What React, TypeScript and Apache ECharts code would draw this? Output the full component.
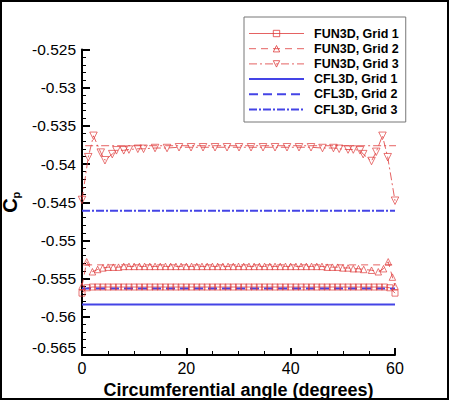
import { useEffect, useRef } from "react";
import * as echarts from "echarts";

const FONT = "Liberation Sans";
const RED = "#de3a3a";
const BLUE = "#4444e6";

// FUN3D, Grid 1 (squares, solid)
const fun3dGrid1Angle = [
  0, 1, 2, 3, 4, 5, 6, 7, 8, 9, 10, 11, 12, 13, 14, 15, 16, 17, 18, 19, 20,
  21, 22, 23, 24, 25, 26, 27, 28, 29, 30, 31, 32, 33, 34, 35, 36, 37, 38, 39,
  40, 41, 42, 43, 44, 45, 46, 47, 48, 49, 50, 51, 52, 53, 54, 55, 56, 57, 58,
  59, 60,
];
const fun3dGrid1Cp = [
  -0.5569, -0.5562, -0.5561, -0.5561, -0.5561, -0.5561, -0.5561, -0.5561,
  -0.5561, -0.5561, -0.5561, -0.5561, -0.5561, -0.5561, -0.5561, -0.5561,
  -0.5561, -0.5561, -0.5561, -0.5561, -0.5561, -0.5561, -0.5561, -0.5561,
  -0.5561, -0.5561, -0.5561, -0.5561, -0.5561, -0.5561, -0.5561, -0.5561,
  -0.5561, -0.5561, -0.5561, -0.5561, -0.5561, -0.5561, -0.5561, -0.5561,
  -0.5561, -0.5561, -0.5561, -0.5561, -0.5561, -0.5561, -0.5561, -0.5561,
  -0.5561, -0.5561, -0.5561, -0.5561, -0.5561, -0.5561, -0.5561, -0.5561,
  -0.5561, -0.5561, -0.5561, -0.5562, -0.5569,
];

// FUN3D, Grid 2 (triangles up, dashed)
const fun3dGrid2Angle = [
  0, 0.9, 2, 3, 4, 5, 6, 7, 8, 9, 10, 11, 12, 13, 14, 15, 16, 17, 18, 19, 20,
  21, 22, 23, 24, 25, 26, 27, 28, 29, 30, 31, 32, 33, 34, 35, 36, 37, 38, 39,
  40, 41, 42, 43, 44, 45, 46, 47, 48, 49, 50, 51, 52, 53, 54, 55.5, 56.8, 57.8,
  58.7, 59.5, 60,
];
const fun3dGrid2Cp = [
  -0.556, -0.5528, -0.5541, -0.5538, -0.5536, -0.5535, -0.5535, -0.5535,
  -0.5534, -0.5534, -0.5534, -0.5534, -0.5534, -0.5534, -0.5534, -0.5534,
  -0.5534, -0.5534, -0.5534, -0.5534, -0.5534, -0.5534, -0.5534, -0.5534,
  -0.5534, -0.5534, -0.5534, -0.5534, -0.5534, -0.5534, -0.5534, -0.5534,
  -0.5534, -0.5534, -0.5534, -0.5534, -0.5534, -0.5534, -0.5534, -0.5534,
  -0.5534, -0.5534, -0.5534, -0.5534, -0.5534, -0.5534, -0.5534, -0.5535,
  -0.5535, -0.5535, -0.5536, -0.5536, -0.5537, -0.5537, -0.5538, -0.5539,
  -0.5541, -0.5537, -0.5528, -0.5548, -0.556,
];
const fun3dGrid2LevelAngle = [0.6, 60.6];
const fun3dGrid2LevelCp = [-0.5532, -0.5532];

// FUN3D, Grid 3 (triangles down, dash-dot)
const fun3dGrid3Angle = [
  0, 1.2, 2.2, 3.6, 4.4, 5.8, 6.6, 8.0, 9.0, 10.7, 11.8, 14.0, 16.3, 18.6,
  20.9, 23.2, 25.5, 27.8, 30.1, 32.4, 34.7, 37.0, 39.3, 41.6, 43.9, 46.1, 48.2,
  49.3, 51.0, 52.0, 53.3, 53.9, 55.5, 56.4, 57.6, 58.6, 60,
];
const fun3dGrid3Cp = [
  -0.5447, -0.5391, -0.5363, -0.5385, -0.5395, -0.5387, -0.5382, -0.5382,
  -0.5381, -0.538, -0.538, -0.5379, -0.5379, -0.5378, -0.5378, -0.5378,
  -0.5378, -0.5378, -0.5378, -0.5378, -0.5378, -0.5378, -0.5378, -0.5378,
  -0.5378, -0.5379, -0.5379, -0.538, -0.5381, -0.5381, -0.5382, -0.5387,
  -0.5396, -0.5384, -0.5363, -0.5391, -0.5448,
];
const fun3dGrid3LevelAngle = [0.6, 60.6];
const fun3dGrid3LevelCp = [-0.5376, -0.5376];

// CFL3D results
const cfl3dAngle = [0, 60];
const cfl3dGrid1Cp = [-0.5584, -0.5584];
const cfl3dGrid2Cp = [-0.5563, -0.5563];
const cfl3dGrid3Cp = [-0.5461, -0.5461];

const fun3dNames = ["FUN3D, Grid 1", "FUN3D, Grid 2", "FUN3D, Grid 3"];
const cfl3dNames = ["CFL3D, Grid 1", "CFL3D, Grid 2", "CFL3D, Grid 3"];

const pairs = (xs: number[], ys: number[]) => xs.map((x, i) => [x, ys[i]]);

export default function App() {
  const chartRef = useRef<HTMLDivElement>(null);

  useEffect(() => {
    if (!chartRef.current) return;
    const chart = echarts.init(chartRef.current, null, { renderer: "svg" });

    const hollow = {
      color: "rgba(0,0,0,0)",
      borderColor: RED,
      borderWidth: 0.7,
    };

    const legendData = [
      ...fun3dNames.map((name) => ({
        name,
        itemStyle: { color: "rgba(0,0,0,0)", borderColor: RED, borderWidth: 0.8 },
        lineStyle: { width: 0.8 },
      })),
      ...cfl3dNames.map((name) => ({
        name,
        itemStyle: { opacity: 0 },
        lineStyle: { width: 2 },
      })),
    ];

    const option = {
      animation: false,
      backgroundColor: "#fff",
      textStyle: { fontFamily: FONT },
      grid: { left: 82, right: 55, top: 49.5, bottom: 46, outerBoundsMode: "none" },
      graphic: [
        {
          type: "rect",
          shape: { x: 1, y: 1, width: 447, height: 398 },
          style: { fill: "none", stroke: "#000", lineWidth: 2 },
          silent: true,
        },
      ],
      legend: {
        data: legendData,
        orient: "vertical",
        left: 244,
        top: 17,
        padding: [10, 7, 6, 4],
        itemWidth: 55,
        itemHeight: 8,
        itemGap: 2.2,
        backgroundColor: "#fff",
        borderColor: "#777",
        borderWidth: 1,
        borderRadius: 0,
        textStyle: {
          fontFamily: FONT,
          fontSize: 12.5,
          fontWeight: "bold",
          color: "#000",
          lineHeight: 12,
          padding: [0, 0, 0, 5],
        },
      },
      xAxis: {
        type: "value",
        min: 0,
        max: 60,
        interval: 20,
        name: "Circumferential angle (degrees)",
        nameLocation: "middle",
        nameGap: 19,
        nameTextStyle: {
          fontFamily: FONT,
          fontSize: 18,
          fontWeight: "bold",
          color: "#000",
        },
        axisLine: { show: true, onZero: false, lineStyle: { color: "#000", width: 2 } },
        axisTick: { show: true, inside: true, length: 7, lineStyle: { color: "#000", width: 2 } },
        minorTick: { show: true, splitNumber: 4, length: 4, lineStyle: { color: "#000", width: 1 } },
        splitLine: { show: false },
        axisLabel: { color: "#000", fontSize: 16, fontFamily: FONT, margin: 5 },
      },
      yAxis: {
        type: "value",
        min: -0.565,
        max: -0.525,
        interval: 0.005,
        name: "{c|C}{p|p}",
        nameLocation: "middle",
        nameGap: 54,
        nameTextStyle: {
          color: "#000",
          rich: {
            c: { fontFamily: FONT, fontSize: 20, fontWeight: "bold", color: "#000", lineHeight: 22 },
            p: {
              fontFamily: FONT,
              fontSize: 11,
              fontWeight: "bold",
              color: "#000",
              verticalAlign: "bottom",
              lineHeight: 14,
            },
          },
        },
        axisLine: { show: true, onZero: false, lineStyle: { color: "#000", width: 2 } },
        axisTick: { show: true, inside: true, length: 8, lineStyle: { color: "#000", width: 2 } },
        minorTick: { show: true, splitNumber: 5, length: 4, lineStyle: { color: "#000", width: 1 } },
        splitLine: { show: false },
        axisLabel: {
          color: "#000",
          fontSize: 15.5,
          fontFamily: FONT,
          margin: 6,
          verticalAlignMinLabel: "bottom",
        },
      },
      series: [
        {
          name: "FUN3D, Grid 1",
          type: "line",
          data: pairs(fun3dGrid1Angle, fun3dGrid1Cp),
          symbol: "rect",
          symbolSize: 6,
          showAllSymbol: true,
          lineStyle: { color: RED, width: 0.8, type: "solid" },
          itemStyle: hollow,
        },
        {
          name: "FUN3D, Grid 2 level",
          type: "line",
          data: pairs(fun3dGrid2LevelAngle, fun3dGrid2LevelCp),
          symbol: "none",
          clip: false,
          lineStyle: { color: RED, width: 0.8, type: [7, 5] },
        },
        {
          name: "FUN3D, Grid 2",
          type: "line",
          data: pairs(fun3dGrid2Angle, fun3dGrid2Cp),
          symbol: "triangle",
          symbolSize: 6.5,
          showAllSymbol: true,
          lineStyle: { color: RED, width: 0.8, type: [7, 5] },
          itemStyle: hollow,
        },
        {
          name: "FUN3D, Grid 3 level",
          type: "line",
          data: pairs(fun3dGrid3LevelAngle, fun3dGrid3LevelCp),
          symbol: "none",
          clip: false,
          lineStyle: { color: RED, width: 0.8, type: [8, 3, 2, 3] },
        },
        {
          name: "FUN3D, Grid 3",
          type: "line",
          data: pairs(fun3dGrid3Angle, fun3dGrid3Cp),
          symbol: "triangle",
          symbolRotate: 180,
          symbolSize: 7.5,
          showAllSymbol: true,
          lineStyle: { color: RED, width: 0.8, type: [8, 3, 2, 3] },
          itemStyle: hollow,
        },
        {
          name: "CFL3D, Grid 1",
          type: "line",
          data: pairs(cfl3dAngle, cfl3dGrid1Cp),
          symbol: "none",
          lineStyle: { color: BLUE, width: 2, type: "solid" },
          itemStyle: { color: BLUE },
        },
        {
          name: "CFL3D, Grid 2",
          type: "line",
          data: pairs(cfl3dAngle, cfl3dGrid2Cp),
          symbol: "none",
          lineStyle: { color: BLUE, width: 2, type: [9, 5] },
          itemStyle: { color: BLUE },
        },
        {
          name: "CFL3D, Grid 3",
          type: "line",
          data: pairs(cfl3dAngle, cfl3dGrid3Cp),
          symbol: "none",
          lineStyle: { color: BLUE, width: 2, type: [8, 2, 2, 2] },
          itemStyle: { color: BLUE },
        },
      ],
    };

    chart.setOption(option);
    return () => {
      chart.dispose();
    };
  }, []);

  return (
    <div
      ref={chartRef}
      style={{ position: "absolute", left: 0, top: 0, width: 450, height: 401 }}
    />
  );
}
